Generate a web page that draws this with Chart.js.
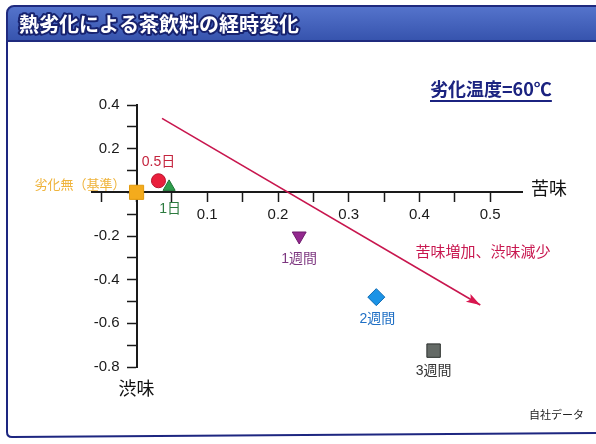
<!DOCTYPE html>
<html lang="ja">
<head>
<meta charset="utf-8">
<title>熱劣化による茶飲料の経時変化</title>
<script src="https://cdn.jsdelivr.net/npm/chart.js@4.4.1/dist/chart.umd.min.js"></script>
<style>
  html, body { margin: 0; padding: 0; background: #fff; }
  #wrap { width: 596px; height: 444px; }
</style>
</head>
<body>
<div id="wrap"><canvas id="tasteChart" width="596" height="444"></canvas></div>
<script>
// 苦味(x) / 渋味(y) の変化量、劣化無を基準 (0, 0)
const stages = ["劣化無（基準）", "0.5日", "1日", "1週間", "2週間", "3週間"];
const bitterness = [0, 0.031, 0.046, 0.23, 0.339, 0.42];
const astringency = [0, 0.053, 0.025, -0.2, -0.48, -0.725];

const xTickLabels = ["0.1", "0.2", "0.3", "0.4", "0.5"];
const yTickLabels = ["0.4", "0.2", "-0.2", "-0.4", "-0.6", "-0.8"];

// 傾向を示す矢印の始点と終点
const trendX = [0.036, 0.486];
const trendY = [0.339, -0.516];

const titleText = "熱劣化による茶飲料の経時変化";
const trendText = "苦味増加、渋味減少";
const tempText = "劣化温度=60℃";

// marker look per stage
const pointShapes = ["rect", "circle", "triangle", "triangle", "rectRot", "rect"];
const pointTurns = [0, 0, 0, 180, 0, 0];
const pointSizes = [10, 7, 7, 8, 8.5, 9.5];
const pointFills = ["#f4ab1c", "#ea1f3c", "#2e9e4c", "#93288e", "#1b93e6", "#646a66"];
const pointEdges = ["#e29a0e", "#b8122c", "#1f7436", "#6e1a6c", "#0e6bb4", "#2b2f2d"];
const labelColors = ["#efb43c", "#c4243e", "#2d7b3f", "#7d3780", "#1f6fc4", "#333333"];
const labelShift = [[-11, -8, "right"], [0, -19, "center"], [1, 22, "center"], [0, 23, "center"], [1, 22, "center"], [0, 21, "center"]];

const FONT = '"Liberation Sans", "Noto Sans CJK JP", sans-serif';
Chart.defaults.font.family = FONT;

function tickText(value, list) {
  const t = String(Number(value.toFixed(2)));
  return list.includes(t) ? t : "";
}

const decorations = {
  id: "decorations",
  beforeDraw(chart) {
    const c = chart.ctx;
    c.save();
    c.fillStyle = "#fff";
    c.fillRect(0, 0, chart.width, chart.height);

    // panel frame
    c.strokeStyle = "#1d2680";
    c.lineWidth = 2;
    c.beginPath();
    c.moveTo(7, 30);
    c.lineTo(7, 432);
    c.quadraticCurveTo(7, 437, 12, 437);
    c.lineTo(600, 433);
    c.stroke();

    // title bar
    const g = c.createLinearGradient(0, 6, 0, 41);
    g.addColorStop(0, "#5574cc");
    g.addColorStop(1, "#3653ad");
    c.beginPath();
    c.roundRect(7, 6, 600, 35, [7, 0, 0, 0]);
    c.fillStyle = g;
    c.fill();
    c.strokeStyle = "#1f2a7e";
    c.stroke();

    c.font = 'bold 20px "Noto Sans CJK JP"';
    c.textBaseline = "middle";
    c.lineJoin = "round";
    c.lineWidth = 4;
    c.strokeStyle = "#17226e";
    c.strokeText(titleText, 19, 24);
    c.fillStyle = "#fff";
    c.fillText(titleText, 19, 24);
    c.restore();
  },
  afterDatasetsDraw(chart) {
    const c = chart.ctx;
    const xs = chart.scales.x;
    const ys = chart.scales.y;
    c.save();
    c.textBaseline = "middle";

    // y tick labels, left of the axis that crosses at x = 0
    const x0 = xs.getPixelForValue(0);
    c.font = '15px "Liberation Sans"';
    c.fillStyle = "#1a1a1a";
    c.textAlign = "right";
    ys.ticks.forEach((t) => {
      const s = tickText(t.value, yTickLabels);
      if (s) c.fillText(s, x0 - 17, ys.getPixelForValue(t.value));
    });

    // stage labels next to each marker
    const pts = chart.getDatasetMeta(0).data;
    pts.forEach((p, i) => {
      const [dx, dy, align] = labelShift[i];
      c.font = i === 0 ? '13px "Noto Sans CJK JP"' : '14px "Liberation Sans", "Noto Sans CJK JP"';
      c.textAlign = align;
      c.fillStyle = labelColors[i];
      c.fillText(stages[i], p.x + dx, p.y + dy);
    });

    // arrow head on the trend line
    const line = chart.getDatasetMeta(1).data;
    const a = line[0], b = line[1];
    const ang = Math.atan2(b.y - a.y, b.x - a.x);
    c.save();
    c.translate(b.x, b.y);
    c.rotate(ang);
    c.fillStyle = "#d8164f";
    c.beginPath();
    c.moveTo(0, 0);
    c.lineTo(-14, -4.5);
    c.lineTo(-11, 0);
    c.lineTo(-14, 4.5);
    c.closePath();
    c.fill();
    c.restore();

    c.font = '15px "Noto Sans CJK JP"';
    c.fillStyle = "#c8174f";
    c.textAlign = "center";
    c.fillText(trendText, xs.getPixelForValue(0.49), ys.getPixelForValue(-0.27));

    // axis names
    c.fillStyle = "#111";
    c.font = '18px "Noto Sans CJK JP"';
    c.textAlign = "left";
    c.fillText("苦味", xs.right + 9, ys.getPixelForValue(0) - 4);
    c.textAlign = "center";
    c.fillText("渋味", x0, ys.bottom + 21);

    // test condition
    c.font = 'bold 18px "Noto Sans CJK JP"';
    c.textAlign = "left";
    c.fillStyle = "#1b2380";
    c.fillText(tempText, 430, 89);
    const w = c.measureText(tempText).width;
    c.strokeStyle = "#1b2380";
    c.lineWidth = 2;
    c.beginPath();
    c.moveTo(430, 101);
    c.lineTo(430 + w, 101);
    c.stroke();

    c.font = '11px "Noto Sans CJK JP"';
    c.fillStyle = "#222";
    c.textAlign = "right";
    c.fillText("自社データ", 584, 415);
    c.restore();
  }
};

const ctx = document.getElementById("tasteChart").getContext("2d");
const tasteChart = new Chart(ctx, {
  type: "scatter",
  data: {
    datasets: [
      {
        label: "経時変化",
        data: stages.map((s, i) => ({ x: bitterness[i], y: astringency[i] })),
        pointStyle: pointShapes,
        pointRotation: pointTurns,
        pointRadius: pointSizes,
        pointHoverRadius: pointSizes,
        backgroundColor: pointFills,
        borderColor: pointEdges,
        borderWidth: 1,
        order: 0,
      },
      {
        type: "line",
        label: trendText,
        data: trendX.map((x, i) => ({ x: x, y: trendY[i] })),
        borderColor: "#c8164e",
        borderWidth: 1.6,
        pointRadius: 0,
        fill: false,
        order: 1,
      },
    ],
  },
  options: {
    responsive: false,
    animation: false,
    events: [],
    layout: { padding: { left: 92, right: 74, top: 105, bottom: 77 } },
    plugins: {
      legend: { display: false },
      tooltip: { enabled: false },
    },
    scales: {
      x: {
        type: "linear",
        position: { y: 0 },
        min: -0.063,
        max: 0.545,
        ticks: {
          stepSize: 0.05,
          includeBounds: false,
          autoSkip: false,
          maxRotation: 0,
          padding: 5,
          color: "#1a1a1a",
          font: { size: 15 },
          callback: (v) => tickText(v, xTickLabels),
        },
        grid: { drawOnChartArea: false, tickLength: 9, tickColor: "#1a1a1a", tickWidth: 1.5 },
        border: { color: "#1a1a1a", width: 2 },
      },
      y: {
        type: "linear",
        position: { x: 0 },
        min: -0.8,
        max: 0.4,
        ticks: {
          display: false,
          stepSize: 0.1,
          autoSkip: false,
        },
        grid: { drawOnChartArea: false, tickLength: 9, tickColor: "#1a1a1a", tickWidth: 1.5 },
        border: { color: "#1a1a1a", width: 2 },
      },
    },
  },
  plugins: [decorations],
});
</script>
</body>
</html>
